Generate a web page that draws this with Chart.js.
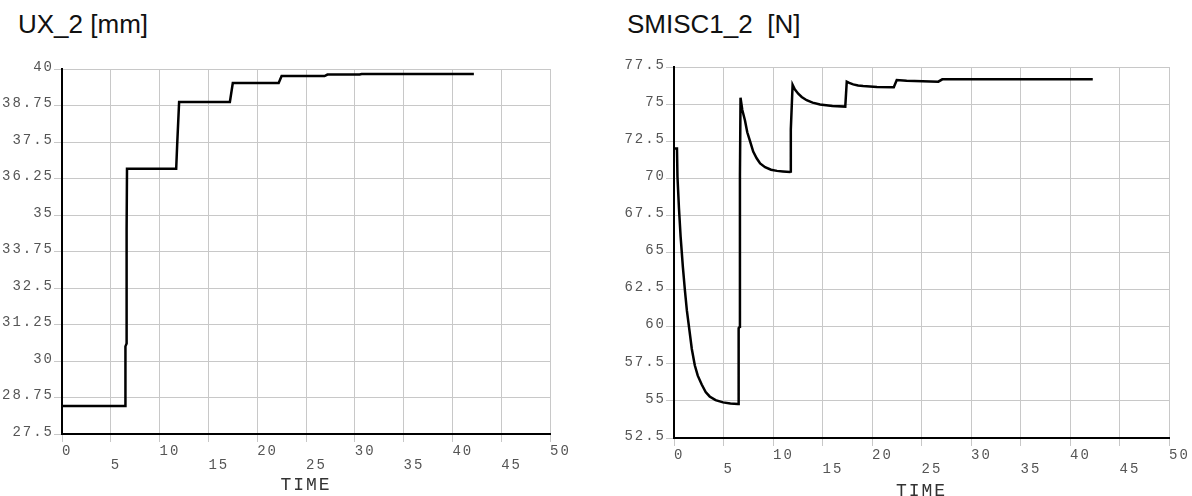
<!DOCTYPE html>
<html>
<head>
<meta charset="utf-8">
<script src="https://cdn.jsdelivr.net/npm/chart.js@4.4.1/dist/chart.umd.min.js"></script>
<style>
  html, body { margin: 0; padding: 0; background: #fff; width: 1192px; height: 496px; overflow: hidden; }
  .title { position: absolute; font-family: "Liberation Sans", Arial, sans-serif; font-size: 26px; color: #111; line-height: 1; white-space: pre; }
  canvas { position: absolute; top: 0; }
</style>
</head>
<body>
<div class="title" style="left:18px; top:11px">UX_2 [mm]</div>
<div class="title" style="left:627px; top:11px">SMISC1_2  [N]</div>
<canvas id="ux" width="596" height="496" style="left:0"></canvas>
<canvas id="smisc" width="596" height="502" style="left:596px"></canvas>
<script>
// shared x axis
const timeTicks = [0, 5, 10, 15, 20, 25, 30, 35, 40, 45, 50];

// UX_2 [mm]
const uxTime = [0, 6.5, 6.5, 6.62, 6.62, 6.66, 11.7, 11.8, 12.0, 17.2, 17.5, 22.2, 22.5, 26.9, 27.2, 30.5, 30.7, 42.2];
const uxValue = [28.46, 28.46, 30.5, 30.6, 34.5, 36.58, 36.58, 37.4, 38.87, 38.87, 39.52, 39.52, 39.76, 39.76, 39.81, 39.81, 39.83, 39.83];
const uxTicks = [27.5, 28.75, 30, 31.25, 32.5, 33.75, 35, 36.25, 37.5, 38.75, 40];

// SMISC1_2 [N]
const smTime = [0, 0.3, 0.35, 0.5, 0.67, 0.9, 1.1, 1.3, 1.55, 1.8, 2.1, 2.4, 2.8, 3.2, 3.6, 4.2, 4.95, 5.7, 6.45,
  6.52, 6.53, 6.64, 6.66, 6.72, 6.9, 7.17, 7.4, 7.68, 8.0, 8.35, 8.7, 9.2, 9.8, 10.4, 11.0, 11.7,
  11.75, 11.8, 11.98, 12.2, 12.55, 12.9, 13.4, 14.0, 14.75, 16.0, 17.3,
  17.35, 17.45, 17.7, 18.1, 18.6, 19.1, 20.5, 22.1, 22.2, 22.5, 23.5, 26.7, 27.1, 42.3];
const smValue = [72.0, 72.0, 70.1, 68.0, 66.05, 64.0, 62.47, 61.1, 59.8, 58.5, 57.4, 56.7, 56.1, 55.6, 55.3, 55.05, 54.9, 54.83, 54.79,
  54.79, 59.9, 60.0, 70.2, 75.43, 74.6, 73.9, 73.1, 72.5, 71.8, 71.35, 71.0, 70.75, 70.58, 70.5, 70.46, 70.42,
  70.45, 73.3, 76.3, 76.0, 75.7, 75.48, 75.26, 75.1, 74.98, 74.88, 74.83,
  74.83, 76.51, 76.43, 76.33, 76.26, 76.22, 76.16, 76.13, 76.13, 76.62, 76.58, 76.51, 76.67, 76.67];
const smTicks = [52.5, 55, 57.5, 60, 62.5, 65, 67.5, 70, 72.5, 75, 77.5];

const GRID = '#c8c8c8';
const MONO = '"Liberation Mono", "Courier New", monospace';

// the plot's mono font is wider than Courier, so open up the letters a bit
const wideText = {
  id: 'wideText',
  beforeLayout: (chart) => { chart.ctx.letterSpacing = '2px'; },
  beforeDraw: (chart) => { chart.ctx.letterSpacing = '2px'; }
};

function buildChart(id, times, values, yTicks, area) {
  const points = times.map((t, i) => ({ x: t, y: values[i] }));
  return new Chart(document.getElementById(id), {
    type: 'line',
    data: {
      datasets: [{
        data: points,
        borderColor: '#000',
        borderWidth: 2.5,
        pointRadius: 0,
        fill: false,
        tension: 0
      }]
    },
    options: {
      responsive: false,
      animation: false,
      layout: { padding: { left: 0, top: area.top, right: area.right, bottom: 0 } },
      plugins: { legend: { display: false }, tooltip: { enabled: false } },
      scales: {
        x: {
          type: 'linear',
          min: 0,
          max: 50,
          afterBuildTicks: (s) => { s.ticks = timeTicks.map((v) => ({ value: v })); },
          afterFit: (s) => { s.height = area.xHeight; },
          grid: { color: GRID, tickLength: 8, tickColor: GRID },
          border: { color: '#000', width: 2 },
          ticks: {
            align: 'start',
            padding: 2,
            color: '#555',
            maxRotation: 0,
            autoSkip: false,
            font: { family: MONO, size: 14, lineHeight: 1 },
            // every other label drops to a second row
            callback: (v) => (v % 10 === 0 ? String(v) : ['', String(v)])
          },
          title: {
            display: true,
            text: 'TIME',
            color: '#333',
            font: { family: MONO, size: 18, lineHeight: 1 },
            padding: { top: 0, bottom: 2 }
          }
        },
        y: {
          min: yTicks[0],
          max: yTicks[yTicks.length - 1],
          afterBuildTicks: (s) => { s.ticks = yTicks.map((v) => ({ value: v })); },
          afterFit: (s) => { s.width = area.left; },
          grid: { color: GRID, tickLength: 8, tickColor: GRID },
          border: { color: '#000', width: 2 },
          ticks: {
            padding: 0,
            labelOffset: -2,
            color: '#555',
            font: { family: MONO, size: 14, lineHeight: 1 },
            callback: (v) => String(v)
          }
        }
      }
    },
    plugins: [wideText]
  });
}

buildChart('ux', uxTime, uxValue, uxTicks, { left: 62, top: 69, right: 46, xHeight: 62 });
buildChart('smisc', smTime, smValue, smTicks, { left: 78, top: 67, right: 23, xHeight: 64 });
</script>
</body>
</html>
